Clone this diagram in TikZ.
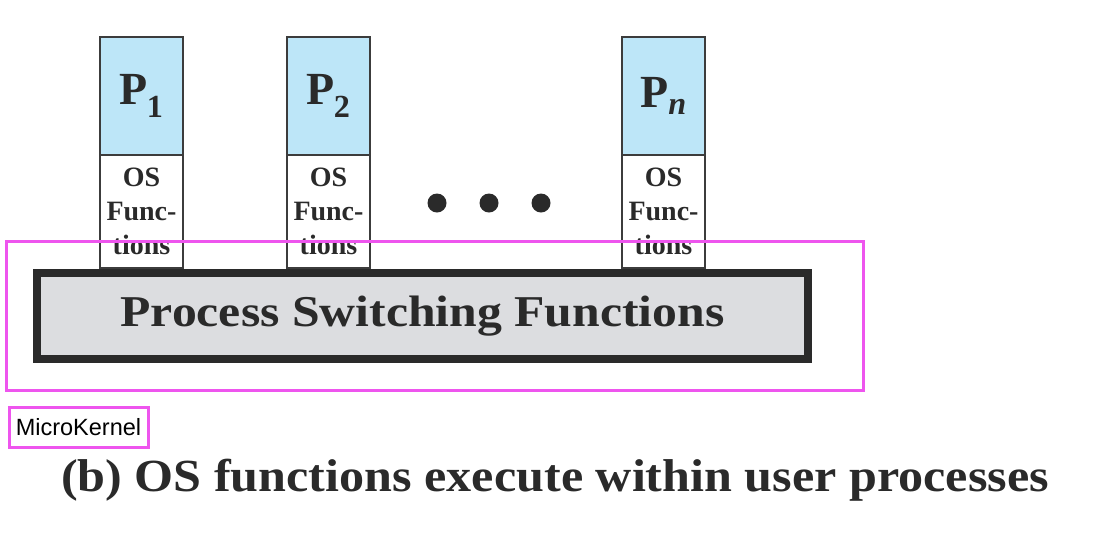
\documentclass[tikz,border=0pt]{standalone}
\usepackage{fontspec}
\setmainfont{Liberation Serif}
\newfontfamily\lsans{Liberation Sans}
\definecolor{pblue}{HTML}{BDE6F8}
\definecolor{pgray}{HTML}{DCDDE0}
\definecolor{mag}{HTML}{EE55EE}
\definecolor{edge}{HTML}{3C3C3C}
\definecolor{ink}{HTML}{2A2A2A}
\begin{document}
\begin{tikzpicture}[x=1pt,y=-1pt,
  proc/.style={draw=edge, line width=2.5pt, fill=pblue, minimum width=83pt, minimum height=118pt, inner sep=0pt, text=ink, font=\bfseries\fontsize{46}{46}\selectfont},
  osf/.style={draw=edge, line width=2.5pt, fill=white, minimum width=83pt, minimum height=113pt, inner sep=0pt, align=center, text=ink, font=\bfseries\fontsize{28}{34}\selectfont},
  dotn/.style={circle, fill=ink, minimum size=19pt, inner sep=0pt},
  bar/.style={draw=ink, line width=8pt, fill=pgray, minimum width=771pt, minimum height=86pt, inner sep=0pt, text=ink, font=\bfseries\fontsize{44}{44}\selectfont},
  magbox/.style={draw=mag, line width=3pt, inner sep=0pt}
]
\useasboundingbox (0,0) rectangle (1110,558);
\node[osf] (o1) at (141.5,211.5) {OS\\Func-\\tions};
\node[osf] (o2) at (328.5,211.5) {OS\\Func-\\tions};
\node[osf] (on) at (663.5,211.5) {OS\\Func-\\tions};
\node[proc] (p1) at (141.5,96) {P\kern-1pt\textsubscript{1}};
\node[proc] (p2) at (328.5,96) {P\kern-1pt\textsubscript{2}};
\node[proc] (pn) at (663.5,96) {P\textsubscript{\textit{n}}};
\node[dotn] (d1) at (437,203) {};
\node[dotn] (d2) at (489,203) {};
\node[dotn] (d3) at (541,203) {};
\node[bar] (psf) at (422.5,316) {\scalebox{1.13}[1]{Process Switching Functions}};
\node[magbox, minimum width=857pt, minimum height=149pt] (mk) at (434.5,315.5) {};
\node[magbox, minimum width=139pt, minimum height=40pt, font=\lsans\fontsize{23.5}{23.5}\selectfont] (mkl) at (78.5,427) {MicroKernel};
\node[text=ink, font=\bfseries\fontsize{46}{46}\selectfont, inner sep=0pt] (cap) at (555,480) {\scalebox{1.09}[1]{(b) OS functions execute within user processes}};
\end{tikzpicture}
\end{document}
